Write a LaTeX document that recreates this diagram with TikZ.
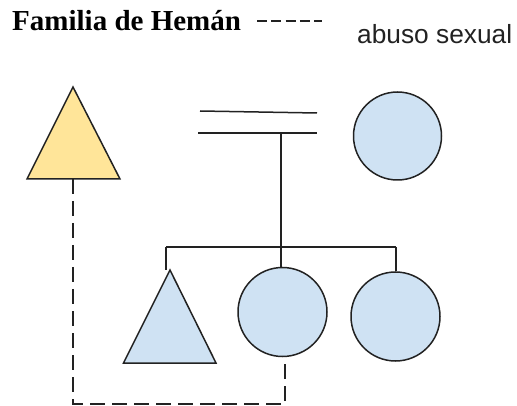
\documentclass[tikz,border=0pt]{standalone}
\usepackage{fontspec}
\setmainfont{Liberation Serif}
\newfontfamily\legendfont{Liberation Sans}
\definecolor{yel}{HTML}{FFE599}
\definecolor{blu}{HTML}{CFE2F3}
\definecolor{ink}{HTML}{222222}
\begin{document}
\begin{tikzpicture}[x=1pt,y=-1pt,
  shapeline/.style={draw=ink,line width=1.5pt,line join=miter},
  person/.style={circle,shapeline,fill=blu,inner sep=0pt,minimum size=88pt},
  rel/.style={draw=ink,line width=1.5pt},
  abuse/.style={draw=ink,line width=1.5pt,dash pattern=on 15pt off 7pt},
  legenddash/.style={draw=ink,line width=2pt,dash pattern=on 10pt off 4.25pt}]
\useasboundingbox (0,0) rectangle (517,406);
% title and legend
\node[anchor=base west,inner sep=0pt,text=black] (title) at (12,31)
  {\fontsize{29}{31}\selectfont\bfseries Familia de Hemán};
\coordinate (lgA) at (257,21);
\coordinate (lgB) at (322,21);
\draw[legenddash] (lgA) -- (lgB);
\node[anchor=base west,inner sep=0pt,text=ink] (legend) at (357,44)
  {\legendfont\fontsize{26.3}{28}\selectfont abuso sexual};
% top-left triangle (yellow)
\coordinate (t1apex) at (73,87);
\coordinate (t1bl) at (27,179);
\coordinate (t1br) at (120,179);
\coordinate (t1base) at (73,179);
\filldraw[shapeline,fill=yel] (t1apex) -- (t1br) -- (t1bl) -- cycle;
% couple lines
\coordinate (m1a) at (200,111);
\coordinate (m1b) at (317,113);
\coordinate (m2a) at (198,133);
\coordinate (m2b) at (317,133);
\coordinate (mdrop) at (281,133);
\draw[rel] (m1a) -- (m1b);
\draw[rel] (m2a) -- (m2b);
% mother circle
\node[person] (mother) at (397.5,136) {};
% sibling line
\coordinate (sibmid) at (281,247);
\coordinate (sibL) at (166,247);
\coordinate (sibR) at (396,247);
\draw[rel] (mdrop) -- (sibmid);
\draw[rel] (sibL) -- (sibR);
% children
\coordinate (t2apex) at (170,270);
\coordinate (t2bl) at (123.5,363);
\coordinate (t2br) at (216,363);
\coordinate (t2top) at (166,270);
\filldraw[shapeline,fill=blu] (t2apex) -- (t2br) -- (t2bl) -- cycle;
\node[person,minimum size=89pt] (child2) at (282.5,312) {};
\node[person,minimum size=89pt] (child3) at (395.5,316.5) {};
\draw[rel] (sibL) -- (t2top);
\draw[rel] (sibmid) -- (sibmid |- child2.north);
\draw[rel] (sibR) -- (sibR |- child3.north);
% abuse connector
\coordinate (abL) at (73,404);
\coordinate (abR) at (285,404);
\coordinate (abEnd) at (285,363);
\draw[abuse] (t1base) -- (abL) -- (abR) -- (abEnd);
\end{tikzpicture}
\end{document}
